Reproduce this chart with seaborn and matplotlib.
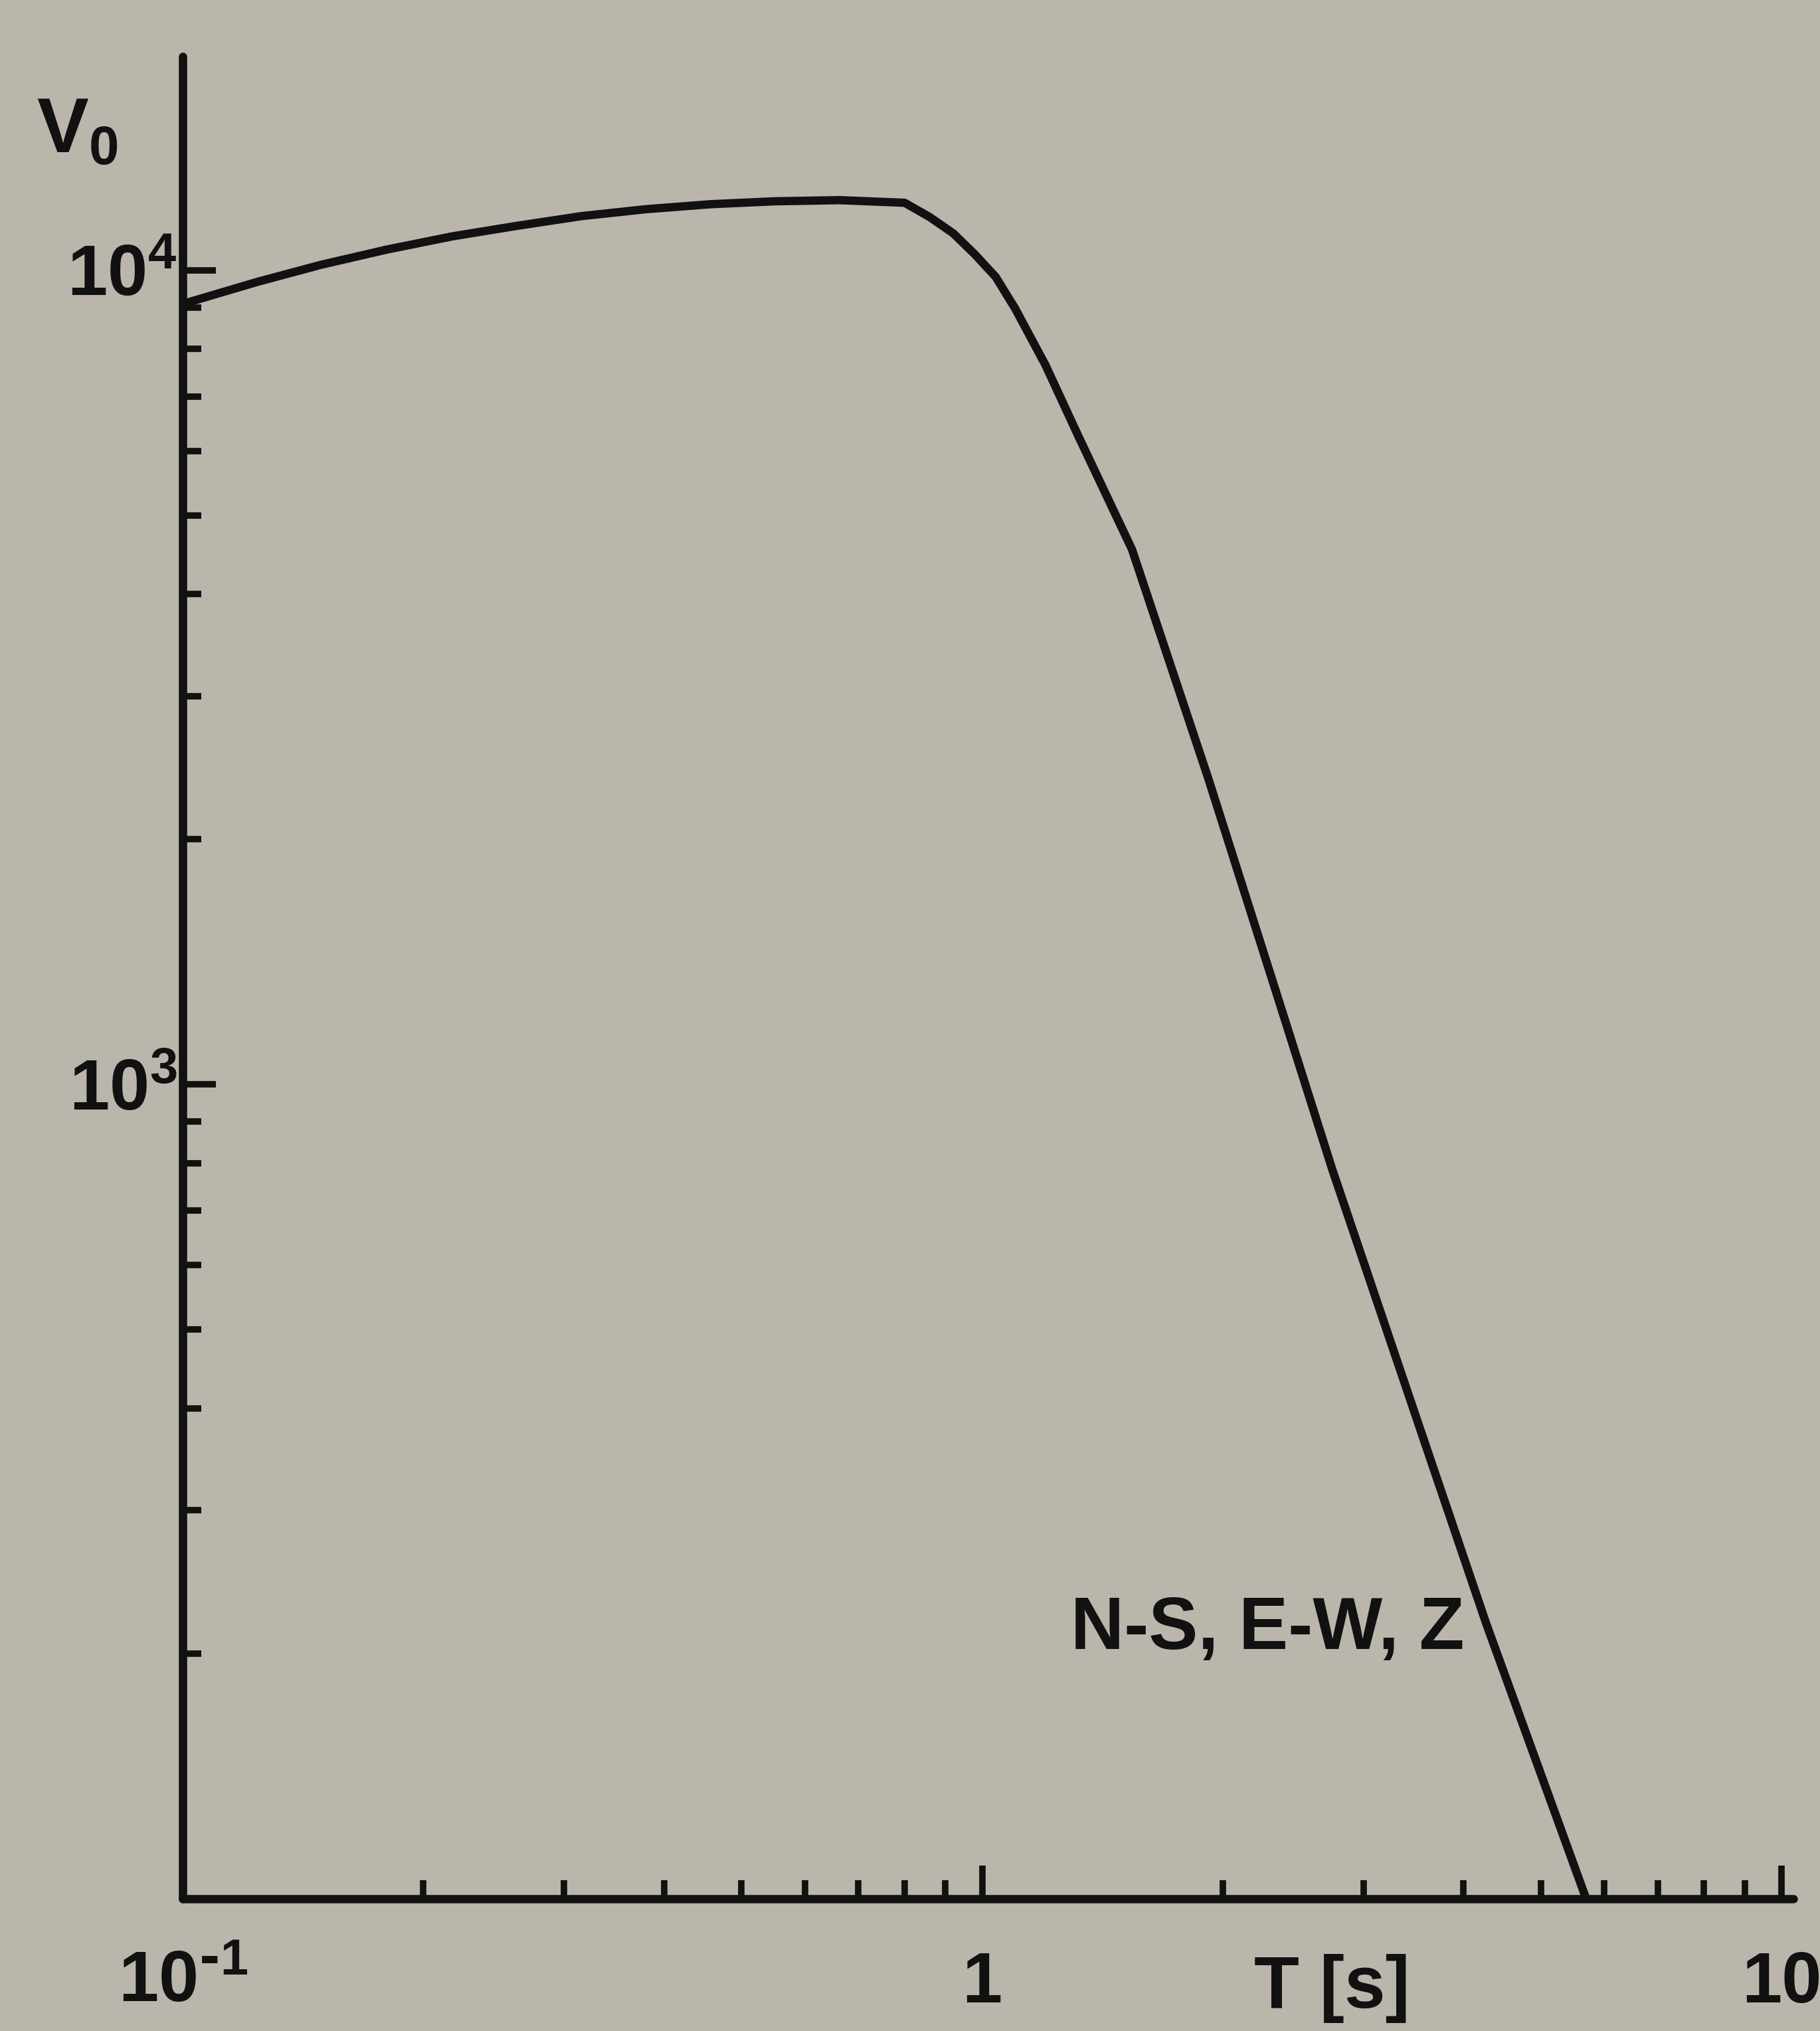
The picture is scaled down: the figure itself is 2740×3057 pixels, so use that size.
import matplotlib
matplotlib.use("Agg")
import matplotlib.pyplot as plt
import matplotlib.transforms as mtransforms
from matplotlib.ticker import FixedLocator, NullFormatter
import pandas as pd
import seaborn as sns

# ---- data ----
period_s = [0.100, 0.124, 0.149, 0.180, 0.217, 0.261, 0.315, 0.379, 0.457, 0.550,
            0.663, 0.800, 0.860, 0.920, 0.980, 1.04, 1.10, 1.20, 1.32, 1.54,
            1.92, 2.32, 2.74, 3.53, 4.27, 5.74]
magnification = [9090, 9675, 10155, 10600, 11000, 11330, 11650, 11880, 12050, 12150,
                 12190, 12100, 11620, 11100, 10450, 9810, 8970, 7650, 6250, 4540,
                 2370, 1320, 788, 378, 218, 98]

x_major = [0.1, 1, 10]
x_major_labels = [r"$10^{\text{-}1}$", "1", "10"]
y_major = [1e3, 1e4]
y_major_labels = ["$10^3$", "$10^4$"]
x_minor = [m * d for d in (0.1, 1) for m in range(2, 10)]
y_minor = [m * d for d in (100, 1000) for m in range(2, 10)]

curve_label = "N-S, E-W, Z"
x_title = "T [s]"
y_title = "V$_0$"

df = pd.DataFrame({"T": period_s, "V": magnification})

sns.set_theme(style="ticks")
plt.rcParams["font.family"] = ["Liberation Sans Narrow", "Liberation Sans", "DejaVu Sans"]
plt.rcParams["font.weight"] = "bold"
plt.rcParams["mathtext.default"] = "regular"

bg = "#bbb6ac"
ink = "#111111"

fig = plt.figure(figsize=(27.4, 30.57), dpi=100, facecolor=bg)
ax = fig.add_axes([0.1004, 0.0651, 0.8850, 0.9071])
ax.set_facecolor(bg)
ax.set_xscale("log")
ax.set_yscale("log")

sns.lineplot(data=df, x="T", y="V", ax=ax, color=ink, linewidth=9,
             estimator=None, sort=False, solid_capstyle="round",
             solid_joinstyle="round")

ax.set_xlim(0.1, 10.35)
ax.set_ylim(100, 18300)

for s in ("top", "right"):
    ax.spines[s].set_visible(False)
for s in ("left", "bottom"):
    ax.spines[s].set_linewidth(9)
    ax.spines[s].set_color(ink)
    ax.spines[s].set_capstyle("round")

ax.xaxis.set_major_locator(FixedLocator(x_major))
ax.xaxis.set_minor_locator(FixedLocator(x_minor))
ax.xaxis.set_minor_formatter(NullFormatter())
ax.set_xticklabels(x_major_labels)
ax.yaxis.set_major_locator(FixedLocator(y_major))
ax.yaxis.set_minor_locator(FixedLocator(y_minor))
ax.yaxis.set_minor_formatter(NullFormatter())
ax.set_yticklabels(y_major_labels)

ax.tick_params(axis="both", which="major", direction="in", length=36, width=7,
               color=ink, labelsize=78, labelcolor=ink)
ax.tick_params(axis="both", which="minor", direction="in", length=20, width=7,
               color=ink)
ax.tick_params(axis="x", which="major", pad=56)
ax.tick_params(axis="y", which="major", pad=6)
ax.set_xlabel("")
ax.set_ylabel("")

trans = mtransforms.blended_transform_factory(ax.transData, ax.transAxes)
ax.text(2.74, -0.030, x_title, transform=trans, ha="center", va="top",
        fontsize=80, color=ink, fontweight="bold")

fig.text(0.020, 0.935, y_title, ha="left", va="center", fontsize=84,
         color=ink, fontweight="bold")

ax.text(1.29, 214, curve_label, ha="left", va="center", fontsize=80,
        color=ink, fontweight="bold")

fig.savefig("out.png", dpi=100, facecolor=bg)
